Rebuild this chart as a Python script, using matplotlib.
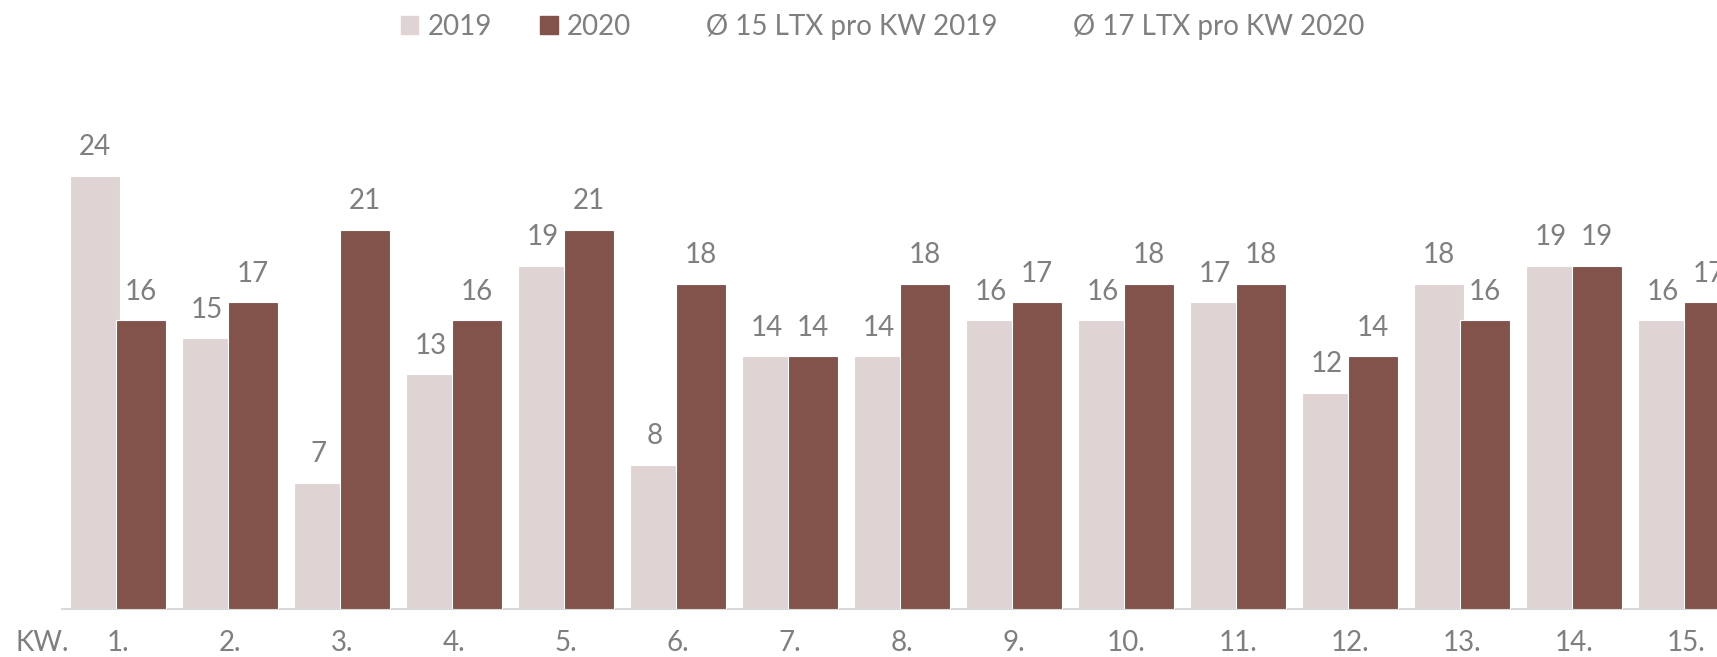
import matplotlib
matplotlib.use("Agg")
import matplotlib.pyplot as plt
import numpy as np
from matplotlib.patches import Patch
from matplotlib.lines import Line2D

# Daten: LTX pro Kalenderwoche
wochen = ["1.", "2.", "3.", "4.", "5.", "6.", "7.", "8.", "9.", "10.",
          "11.", "12.", "13.", "14.", "15."]
werte_2019 = [24, 15, 7, 13, 19, 8, 14, 14, 16, 16, 17, 12, 18, 19, 16]
werte_2020 = [16, 17, 21, 16, 21, 18, 14, 18, 17, 18, 18, 14, 16, 19, 17]
legende_labels = ["2019", "2020", "Ø 15 LTX pro KW 2019", "Ø 17 LTX pro KW 2020"]

HELL = "#DFD4D3"
DUNKEL = "#82534B"
GRAU = "#7F7F7F"
FS = 20

plt.rcParams["font.family"] = ["Lato", "DejaVu Sans"]

W, H = 1717, 657
fig = plt.figure(figsize=(W / 100, H / 100), dpi=100)
ax = fig.add_axes([62 / W, 48 / H, 1 - 62 / W, 609 / H])

x = np.arange(len(wochen))
breite = 0.446
versatz = 0.205
b1 = ax.bar(x - versatz, werte_2019, breite, color=HELL, edgecolor="white", linewidth=0.8, zorder=2)
b2 = ax.bar(x + versatz, werte_2020, breite, color=DUNKEL, edgecolor="white", linewidth=0.8, zorder=3)

for bars, vals in ((b1, werte_2019), (b2, werte_2020)):
    for rect, v in zip(bars, vals):
        ax.annotate(str(v), (rect.get_x() + rect.get_width() / 2, rect.get_height()),
                    xytext=(0, 15), textcoords="offset points", ha="center",
                    va="baseline", fontsize=FS, color=GRAU, annotation_clip=False)

ax.set_xlim(-0.5, 14.28)
ax.set_ylim(0, 33.76)
ax.set_xticks(x)
ax.set_xticklabels(wochen, fontsize=FS, color=GRAU)
ax.tick_params(axis="x", length=0, pad=15)
ax.set_yticks([])
for s in ("left", "right", "top"):
    ax.spines[s].set_visible(False)
ax.spines["bottom"].set_color("#D9D9D9")
ax.spines["bottom"].set_linewidth(1.5)

fig.text(15 / W, 1 - 643 / H, "KW.", fontsize=FS, color=GRAU, ha="left", va="center")

handles = [Patch(color=HELL), Patch(color=DUNKEL),
           Line2D([], [], color="none"), Line2D([], [], color="none")]
leg = fig.legend(handles, legende_labels, loc="center left",
                 bbox_to_anchor=(401 / W, 1 - 27 / H), ncol=4, frameon=False,
                 fontsize=FS, labelcolor=GRAU, handlelength=0.62, handleheight=0.62,
                 handletextpad=0.34, columnspacing=1.74, borderpad=0, borderaxespad=0)

fig.savefig("out.png", dpi=100)
